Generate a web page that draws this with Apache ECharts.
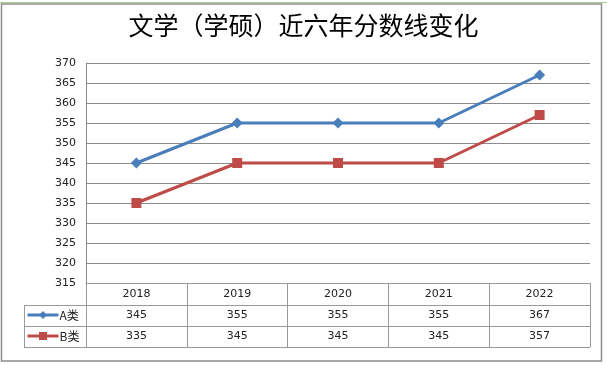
<!DOCTYPE html>
<html>
<head>
<meta charset="utf-8">
<script src="https://cdn.jsdelivr.net/npm/echarts@6/dist/echarts.min.js"></script>
<style>
html,body{margin:0;padding:0;background:#fff;}
#c{width:607px;height:365px;}
</style>
</head>
<body>
<div id="c"></div>
<script>
var titleText = '文学（学硕）近六年分数线变化';
var years = ['2018', '2019', '2020', '2021', '2022'];
var seriesNames = ['A类', 'B类'];
var valuesA = [345, 355, 355, 355, 367];
var valuesB = [335, 345, 345, 345, 357];
var yMin = 315, yMax = 370, yStep = 5;

var chart = echarts.init(document.getElementById('c'), null, {renderer: 'canvas'});
var gridColor = '#8a8a8a';
var tableColor = '#9a9a9a';
var font = 'DejaVu Sans';

var option = {
  backgroundColor: '#fff',
  animation: false,
  title: {
    text: titleText,
    left: 'center',
    top: 13,
    padding: 0,
    textStyle: {fontFamily: 'Noto Sans CJK SC', fontSize: 25, fontWeight: 'normal', color: '#000'}
  },
  legend: {
    orient: 'vertical',
    left: 26,
    top: 309,
    padding: 0,
    itemWidth: 31,
    itemHeight: 10,
    itemGap: 9,
    lineStyle: {width: 3},
    textStyle: {fontFamily: 'Noto Sans CJK SC', fontSize: 12, color: '#222', padding: [0,0,0,-4]},
    data: seriesNames
  },
  grid: {left: 86, right: 17, top: 63, bottom: 82, containLabel: false},
  yAxis: {
    type: 'value', min: yMin, max: yMax, interval: yStep,
    axisLine: {show: true, lineStyle: {color: gridColor, width: 1}},
    axisTick: {show: false},
    axisLabel: {fontFamily: font, fontSize: 11, color: '#222', margin: 10},
    splitLine: {lineStyle: {color: gridColor, width: 1}}
  },
  xAxis: [
    {
      type: 'category', data: years, boundaryGap: true, position: 'bottom',
      axisLine: {show: true, lineStyle: {color: tableColor, width: 1}},
      axisTick: {show: true, interval: 0, length: 64, lineStyle: {color: tableColor, width: 1}},
      axisLabel: {fontFamily: font, fontSize: 11, color: '#222', margin: 6, interval: 0}
    },
    {
      type: 'category', data: valuesA.map(String), boundaryGap: true, position: 'bottom', offset: 22,
      axisLine: {show: true, lineStyle: {color: tableColor, width: 1}},
      axisTick: {show: false},
      axisLabel: {fontFamily: font, fontSize: 11, color: '#222', margin: 5, interval: 0}
    },
    {
      type: 'category', data: valuesB.map(String), boundaryGap: true, position: 'bottom', offset: 43,
      axisLine: {show: true, lineStyle: {color: tableColor, width: 1}},
      axisTick: {show: false},
      axisLabel: {fontFamily: font, fontSize: 11, color: '#222', margin: 5, interval: 0}
    }
  ],
  series: [
    {
      name: seriesNames[0], type: 'line', xAxisIndex: 0, data: valuesA,
      symbol: 'diamond', symbolSize: 11,
      lineStyle: {color: '#4A7EBB', width: 3},
      itemStyle: {color: '#4A7EBB'}
    },
    {
      name: seriesNames[1], type: 'line', xAxisIndex: 0, data: valuesB,
      symbol: 'rect', symbolSize: 10,
      lineStyle: {color: '#BE4B48', width: 3},
      itemStyle: {color: '#BE4B48'}
    }
  ],
  graphic: [
    {type: 'line', shape: {x1: 0, y1: 2.5, x2: 607, y2: 2.5}, style: {stroke: '#a8cf9a', lineWidth: 1}, silent: true},
    {type: 'rect', shape: {x: 1.5, y: 4, width: 600, height: 357}, style: {fill: 'none', stroke: '#8c8c8c', lineWidth: 1.5}, silent: true},
    {type: 'line', shape: {x1: 24, y1: 305.5, x2: 86, y2: 305.5}, style: {stroke: tableColor, lineWidth: 1}, silent: true},
    {type: 'line', shape: {x1: 24, y1: 326.5, x2: 86, y2: 326.5}, style: {stroke: tableColor, lineWidth: 1}, silent: true},
    {type: 'line', shape: {x1: 24, y1: 347.5, x2: 590, y2: 347.5}, style: {stroke: tableColor, lineWidth: 1}, silent: true},
    {type: 'line', shape: {x1: 24.5, y1: 305, x2: 24.5, y2: 348}, style: {stroke: tableColor, lineWidth: 1}, silent: true}
  ]
};
chart.setOption(option);
</script>
</body>
</html>
